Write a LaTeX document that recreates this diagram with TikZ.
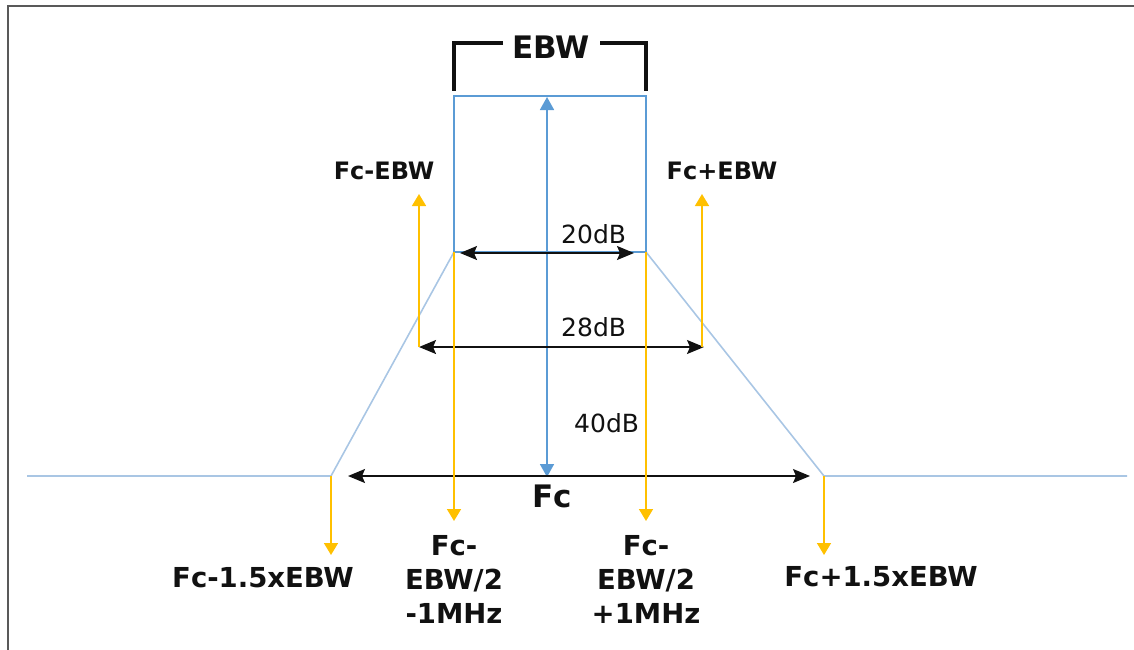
\documentclass[tikz,border=0pt]{standalone}
\usepackage{fontspec}
\setmainfont{DejaVu Sans}
\usetikzlibrary{arrows.meta}
\definecolor{boxblue}{HTML}{5B9BD5}
\definecolor{slopeblue}{HTML}{A9C6E4}
\definecolor{ylw}{HTML}{FFC000}
\definecolor{ink}{HTML}{111111}
\begin{document}
\begin{tikzpicture}[x=1pt,y=-1pt,
  frame/.style={draw=black!65, line width=2pt},
  slope/.style={draw=slopeblue, line width=1.6pt},
  boxline/.style={draw=boxblue, line width=2pt},
  bracket/.style={draw=ink, line width=4.5pt},
  yarrow/.style={draw=ylw, line width=1.6pt, -{Triangle[length=12pt,width=14pt]}},
  barrow/.style={draw=ink, line width=1.5pt, {Stealth[length=17pt,width=14pt,inset=3pt]}-{Stealth[length=17pt,width=14pt,inset=3pt]}},
  bluearrow/.style={draw=boxblue, line width=1.8pt, {Triangle[length=13pt,width=14pt]}-{Triangle[length=13pt,width=14pt]}},
  blab/.style={font=\fontsize{27.5}{34}\selectfont\bfseries, text=ink, inner sep=0pt, align=center},
  slab/.style={font=\fontsize{24}{28}\selectfont\bfseries, text=ink, inner sep=0pt},
  dlab/.style={font=\fontsize{25}{29}\selectfont, text=ink, inner sep=0pt},
  biglab/.style={font=\fontsize{31}{35}\selectfont\bfseries, text=ink, inner sep=0pt}]
\useasboundingbox (0,0) rectangle (1134,649);
% frame
\draw[frame] (8,660) -- (8,6) -- (1140,6);
% key points
\coordinate (L0) at (27,476);
\coordinate (A) at (331,476);
\coordinate (B) at (454,252);
\coordinate (C) at (646,252);
\coordinate (D) at (824,476);
\coordinate (R0) at (1127,476);
\coordinate (TL) at (454,96);
\coordinate (TR) at (646,96);
% spectrum mask
\draw[slope] (L0) -- (A) -- (B);
\draw[slope] (C) -- (D) -- (R0);
\draw[boxline] (B) -- (TL) -- (TR) -- (C) -- cycle;
% EBW bracket
\node[biglab] (ebw) at (551,47) {EBW};
\coordinate (bl1) at (503,43);
\coordinate (bl2) at (454,43);
\coordinate (bl3) at (454,91);
\coordinate (br1) at (600,43);
\coordinate (br2) at (646,43);
\coordinate (br3) at (646,91);
\draw[bracket] (bl1) -- (bl2) -- (bl3);
\draw[bracket] (br1) -- (br2) -- (br3);
% blue vertical arrow
\coordinate (vt) at (547,97);
\coordinate (vb) at (547,477);
\draw[bluearrow] (vt) -- (vb);
% 20dB
\coordinate (a20l) at (460,253);
\coordinate (a20r) at (634,253);
\draw[barrow] (a20l) -- (a20r);
\node[dlab, anchor=west] (t20) at (561,234) {20dB};
% 28dB
\coordinate (a28l) at (419,347);
\coordinate (a28r) at (704,347);
\draw[barrow] (a28l) -- (a28r);
\node[dlab, anchor=west] (t28) at (561,327) {28dB};
% 40dB
\node[dlab, anchor=west] (t40) at (574,423) {40dB};
% Fc arrow
\coordinate (fcl) at (348,476);
\coordinate (fcr) at (810,476);
\draw[barrow] (fcl) -- (fcr);
\node[biglab] (fc) at (552,496) {Fc};
% yellow arrows
\coordinate (ym1b) at (419,347);
\coordinate (ym1t) at (419,194);
\draw[yarrow] (ym1b) -- (ym1t);
\node[slab] (lm1) at (384,171) {Fc-EBW};
\coordinate (yp1b) at (702,347);
\coordinate (yp1t) at (702,194);
\draw[yarrow] (yp1b) -- (yp1t);
\node[slab] (lp1) at (722,171) {Fc+EBW};
\coordinate (ym2) at (454,521);
\draw[yarrow] (B) -- (ym2);
\node[blab, anchor=north] (lm2) at (454,535) {Fc-\\EBW/2\\-1MHz};
\coordinate (yp2) at (646,521);
\draw[yarrow] (C) -- (yp2);
\node[blab, anchor=north] (lp2) at (646,535) {Fc-\\EBW/2\\+1MHz};
\coordinate (ym3) at (331,555);
\draw[yarrow] (A) -- (ym3);
\node[blab] (lm3) at (263,578) {Fc-1.5xEBW};
\coordinate (yp3) at (824,555);
\draw[yarrow] (D) -- (yp3);
\node[blab] (lp3) at (881,577) {Fc+1.5xEBW};
\end{tikzpicture}
\end{document}
